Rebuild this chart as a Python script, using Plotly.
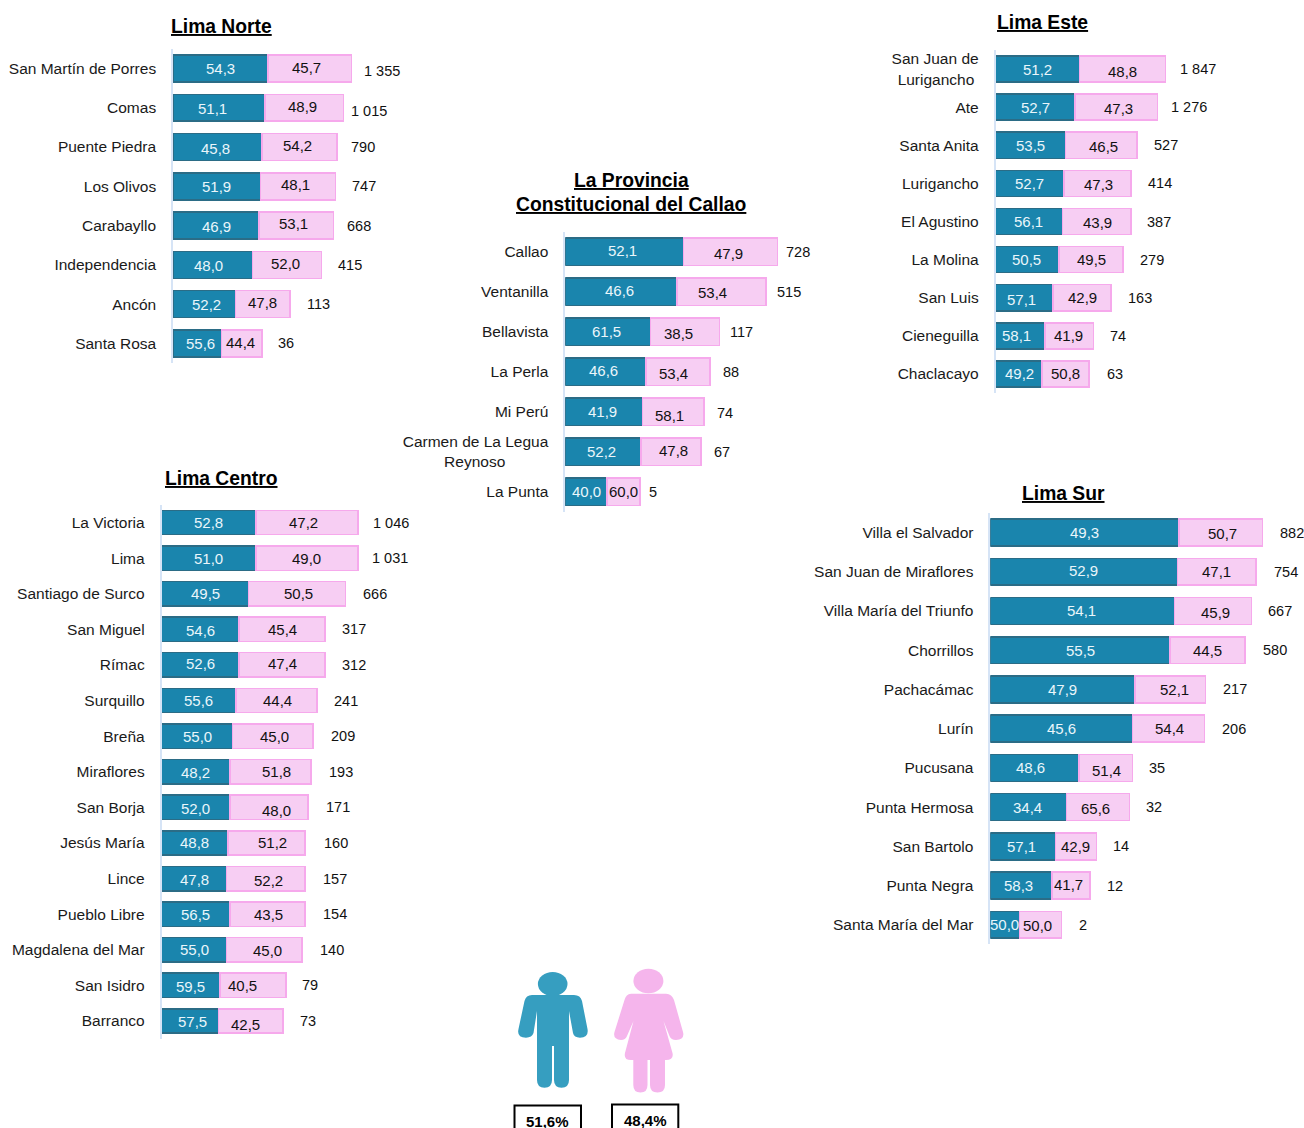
import plotly.graph_objects as go

W, H = 1304, 1128
FONT = "Liberation Sans"
MALE_FILL, MALE_EDGE = "#1A85AD", "#2B6C86"
FEMALE_FILL, FEMALE_EDGE = "#F7CEF3", "#F6A9EC"
AXIS_LINE = "#D6E4F6"
MAN_COLOR, WOMAN_COLOR = "#369EC0", "#F5B5EC"

# ---------- Lima Norte ----------
NORTE_NAMES = ["San Martín de Porres", "Comas", "Puente Piedra", "Los Olivos", "Carabayllo", "Independencia", "Ancón", "Santa Rosa"]
NORTE_MALE = [54.3, 51.1, 45.8, 51.9, 46.9, 48.0, 52.2, 55.6]
NORTE_FEMALE = [45.7, 48.9, 54.2, 48.1, 53.1, 52.0, 47.8, 44.4]
NORTE_TOTAL = [1355, 1015, 790, 747, 668, 415, 113, 36]
NORTE_MALE_BAR = [95, 92, 89, 87.3, 86, 79.7, 62.3, 48.3]
NORTE_FEMALE_BAR = [83.3, 78.3, 75, 75, 74.7, 69, 54.7, 40.7]

# ---------- Callao ----------
CALLAO_NAMES = ["Callao", "Ventanilla", "Bellavista", "La Perla", "Mi Perú", "Carmen de La Legua Reynoso", "La Punta"]
CALLAO_MALE = [52.1, 46.6, 61.5, 46.6, 41.9, 52.2, 40.0]
CALLAO_FEMALE = [47.9, 53.4, 38.5, 53.4, 58.1, 47.8, 60.0]
CALLAO_TOTAL = [728, 515, 117, 88, 74, 67, 5]
CALLAO_MALE_BAR = [118.3, 112, 85.3, 80.7, 77.3, 76, 41.7]
CALLAO_FEMALE_BAR = [94, 89, 69, 64.3, 61.3, 59.7, 33]

# ---------- Lima Este ----------
ESTE_NAMES = ["San Juan de Lurigancho", "Ate", "Santa Anita", "Lurigancho", "El Agustino", "La Molina", "San Luis", "Cieneguilla", "Chaclacayo"]
ESTE_MALE = [51.2, 52.7, 53.5, 52.7, 56.1, 50.5, 57.1, 58.1, 49.2]
ESTE_FEMALE = [48.8, 47.3, 46.5, 47.3, 43.9, 49.5, 42.9, 41.9, 50.8]
ESTE_TOTAL = [1847, 1276, 527, 414, 387, 279, 163, 74, 63]
ESTE_MALE_BAR = [84, 79.3, 70, 68.3, 67, 63.7, 57.7, 49.7, 46.7]
ESTE_FEMALE_BAR = [86, 82.7, 71.7, 67.3, 68.7, 64, 57.7, 48.3, 46.7]

# ---------- Lima Centro ----------
CENTRO_NAMES = ["La Victoria", "Lima", "Santiago de Surco", "San Miguel", "Rímac", "Surquillo", "Breña", "Miraflores", "San Borja", "Jesús María", "Lince", "Pueblo Libre", "Magdalena del Mar", "San Isidro", "Barranco"]
CENTRO_MALE = [52.8, 51.0, 49.5, 54.6, 52.6, 55.6, 55.0, 48.2, 52.0, 48.8, 47.8, 56.5, 55.0, 59.5, 57.5]
CENTRO_FEMALE = [47.2, 49.0, 50.5, 45.4, 47.4, 44.4, 45.0, 51.8, 48.0, 51.2, 52.2, 43.5, 45.0, 40.5, 42.5]
CENTRO_TOTAL = [1046, 1031, 666, 317, 312, 241, 209, 193, 171, 160, 157, 154, 140, 79, 73]
CENTRO_MALE_BAR = [94.7, 94.7, 87, 77.7, 77.7, 74.3, 71, 68.3, 68.3, 66.7, 65, 68.3, 65, 58.7, 57]
CENTRO_FEMALE_BAR = [102, 102, 97, 86, 86, 81.3, 80.3, 81.3, 78, 76.7, 78.3, 75, 75.3, 66, 64.7]

# ---------- Lima Sur ----------
SUR_NAMES = ["Villa el Salvador", "San Juan de Miraflores", "Villa María del Triunfo", "Chorrillos", "Pachacámac", "Lurín", "Pucusana", "Punta Hermosa", "San Bartolo", "Punta Negra", "Santa María del Mar"]
SUR_MALE = [49.3, 52.9, 54.1, 55.5, 47.9, 45.6, 48.6, 34.4, 57.1, 58.3, 50.0]
SUR_FEMALE = [50.7, 47.1, 45.9, 44.5, 52.1, 54.4, 51.4, 65.6, 42.9, 41.7, 50.0]
SUR_TOTAL = [882, 754, 667, 580, 217, 206, 35, 32, 14, 12, 2]
SUR_MALE_BAR = [188.7, 187.3, 184, 179.7, 144.7, 142, 88.7, 76, 65.3, 61.7, 29]
SUR_FEMALE_BAR = [83.3, 78.3, 77, 75, 70.7, 72, 53.3, 63, 40.7, 38, 42.3]

# ---------- National shares ----------
NATIONAL_MALE = "51,6%"
NATIONAL_FEMALE = "48,4%"

# ---------- Label placement (pixels, relative to bar segment centre or bar end) ----------
PLACEMENT = {
    "norte": dict(x0=173, span=230, top=48.9, bottom=363,
        mdx=[-.5, -7, -2, -.5, 0, -4, 2.5, 3], mdy=[0, .5, 1, 0, .5, .5, 0, .5],
        fdx=[-2.8, -2, -2, -2, -3, -2, 0, -1], fdy=[-1.5, -1.5, -1.5, -2, -2, -1.5, -2, -.5],
        gap=[12, 7, 13, 16, 12, 15, 16, 15], tdy=[2, 3, 0, 0, 0, 0, 0, 0]),
    "callao": dict(x0=565.2, span=240, top=231.5, bottom=512,
        mdx=[-2.2, -1.7, -1.7, -1.7, -1.7, -1.7, 0], mdy=[-.7, -1, -.3, -1, -.5, -.3, -.3],
        fdx=[-1.7, -9, -7, -5, -3.3, 2, 0], fdy=[2.3, 1.2, 2, 2, 3.8, -1.3, 0],
        gap=[7.7, 9.7, 9.3, 11.3, 12.3, 12, 8], tdy=[0, 0, 0, 0, 1, 0, 0]),
    "este": dict(x0=995.5, span=230, top=50, bottom=393,
        mdx=[.3, .3, .3, 0, -.5, -1.2, -2.8, -3.5, 1], mdy=[0, 0, 0, 0, 0, 0, 1.7, 0, 0],
        fdx=[-.3, 2.3, 1.8, 1, .7, .3, 0, -1.2, .3], fdy=[2.7, 1, 1, 1.3, .8, 0, 0, 0, 0],
        gap=[13.3, 12.7, 15.7, 16, 15, 15.7, 16.3, 15.3, 16.7], tdy=[0, 0, 0, 0, 0, 0, 0, 0, 0]),
    "centro": dict(x0=161.5, span=230, top=504.7, bottom=1038.8,
        mdx=[0, 0, 0, 0, 0, 0, .5, 0, 0, -.7, 0, 0, 0, 0, 2.8], mdy=[0, 0, 0, 1, -1, 0, 0, .5, 1, -.3, .7, 0, 0, .8, 0],
        fdx=[-4, -1, 1.8, .3, .7, .7, 1.8, 5.7, 7.7, 6, 2.5, 1.5, 3.3, -11, -5.7], fdy=[0, 0, 0, -.3, -1.3, 0, 0, 0, 2.7, -.3, 1.7, 0, .8, 0, 3],
        gap=[14, 12.3, 16.7, 16, 16, 16.3, 16.7, 17, 17, 18, 17.3, 17.3, 17.3, 15, 15.7], tdy=[0, 0, 0, 0, 0, 0, 0, 0, 0, 0, 0, 0, 0, 0, 0]),
    "sur": dict(x0=990.3, span=300, top=512.9, bottom=944.4,
        mdx=[-.3, -.7, -.7, 0, 0, -.3, -3.7, -1, -1.7, -2.2, 0], mdy=[0, -1, 0, 0, 0, 0, 0, 0, 0, 0, 0],
        fdx=[1.7, 0, 2.5, 0, 4, 1, 1.3, -2.8, 0, -2.3, -3.2], fdy=[.8, -.7, 1.7, 0, 0, 0, 2.7, 1.7, 0, -1.3, 1],
        gap=[16.3, 16.7, 16, 16.7, 16.7, 16.3, 16, 15.3, 16, 15.7, 16], tdy=[0, 0, 0, 0, 0, 0, 0, 0, 0, 0, 0]),
}

PANELS = [
    ("norte", NORTE_NAMES, NORTE_MALE, NORTE_FEMALE, NORTE_TOTAL, NORTE_MALE_BAR, NORTE_FEMALE_BAR),
    ("callao", CALLAO_NAMES, CALLAO_MALE, CALLAO_FEMALE, CALLAO_TOTAL, CALLAO_MALE_BAR, CALLAO_FEMALE_BAR),
    ("este", ESTE_NAMES, ESTE_MALE, ESTE_FEMALE, ESTE_TOTAL, ESTE_MALE_BAR, ESTE_FEMALE_BAR),
    ("centro", CENTRO_NAMES, CENTRO_MALE, CENTRO_FEMALE, CENTRO_TOTAL, CENTRO_MALE_BAR, CENTRO_FEMALE_BAR),
    ("sur", SUR_NAMES, SUR_MALE, SUR_FEMALE, SUR_TOTAL, SUR_MALE_BAR, SUR_FEMALE_BAR),
]

# Tick text: line breaks as in the original; nbsp padding keeps the short line centred
TICK_OVERRIDES = {
    "San Juan de Lurigancho": "San Juan de<br>Lurigancho\u00a0",
    "Carmen de La Legua Reynoso": "Carmen de La Legua<br>Reynoso" + "\u00a0" * 10,
}


def share(v):
    return f"{v:.1f}".replace(".", ",")


def thousands(v):
    return f"{v:,}".replace(",", " ")


fig = go.Figure()
annotations = []
layout_axes = {}

for i, (key, names, male, female, total, mbar, fbar) in enumerate(PANELS, start=1):
    p = PLACEMENT[key]
    suffix = "" if i == 1 else str(i)
    xref, yref = f"x{suffix}", f"y{suffix}"
    fig.add_trace(go.Bar(y=names, x=mbar, orientation="h", xaxis=xref, yaxis=yref, name="Hombres",
                         marker=dict(color=MALE_FILL, line=dict(color=MALE_EDGE, width=1.5)), showlegend=False))
    fig.add_trace(go.Bar(y=names, x=fbar, orientation="h", xaxis=xref, yaxis=yref, name="Mujeres",
                         marker=dict(color=FEMALE_FILL, line=dict(color=FEMALE_EDGE, width=1.5)), showlegend=False))
    layout_axes[f"xaxis{suffix}"] = dict(
        domain=[p["x0"] / W, (p["x0"] + p["span"]) / W], range=[0, p["span"]], visible=False,
        anchor=yref, fixedrange=True)
    layout_axes[f"yaxis{suffix}"] = dict(
        domain=[1 - p["bottom"] / H, 1 - p["top"] / H], type="category", categoryorder="array",
        categoryarray=names, autorange="reversed", anchor=xref, showgrid=False, zeroline=False,
        showline=True, linecolor=AXIS_LINE, linewidth=1.5, ticks="", ticklabelstandoff=12,
        tickmode="array", tickvals=names, ticktext=[TICK_OVERRIDES.get(n, n) for n in names],
        tickfont=dict(family=FONT, size=15.5, color="#1a1a1a"), fixedrange=True)
    for j, name in enumerate(names):
        common = dict(xref=xref, yref=yref, y=name, showarrow=False, borderpad=0)
        annotations.append(dict(common, x=mbar[j] / 2, text=share(male[j]), xshift=p["mdx"][j], yshift=-p["mdy"][j],
                                font=dict(family=FONT, size=15, color="#EAF6FB")))
        annotations.append(dict(common, x=mbar[j] + fbar[j] / 2, text=share(female[j]), xshift=p["fdx"][j], yshift=-p["fdy"][j],
                                font=dict(family=FONT, size=15, color="#111111")))
        annotations.append(dict(common, x=mbar[j] + fbar[j], xanchor="left", text=thousands(total[j]), xshift=p["gap"][j], yshift=-p["tdy"][j],
                                font=dict(family=FONT, size=14.5, color="#111111")))


def px(x):
    return x / W


def py(y):
    return 1 - y / H


# Panel titles
for text, cx, cy in [
    ("<b><u>Lima Norte</u></b>", 221, 26),
    ("<b><u>La Provincia</u></b>", 631.5, 180.5),
    ("<b><u>Constitucional del Callao</u></b>", 631.5, 204.5),
    ("<b><u>Lima Este</u></b>", 1042, 22.5),
    ("<b><u>Lima Centro</u></b>", 222, 478.5),
    ("<b><u>Lima Sur</u></b>", 1063, 493),
]:
    annotations.append(dict(xref="paper", yref="paper", x=px(cx), y=py(cy), xanchor="center", yanchor="middle",
                            text=text, showarrow=False, font=dict(family=FONT, size=19.3, color="#000000"),
                            borderpad=0, align="center"))

# Summary box labels
for text, cx, cy in [(NATIONAL_MALE, 547, 1121), (NATIONAL_FEMALE, 645, 1120)]:
    annotations.append(dict(xref="paper", yref="paper", x=px(cx), y=py(cy), xanchor="center", yanchor="middle",
                            text=f"<b>{text}</b>", showarrow=False,
                            font=dict(family=FONT, size=15, color="#000000"), borderpad=0))


def path(cmds):
    """Build an SVG path in paper coordinates from (cmd, x, y, ...) tuples given in page pixels."""
    out = []
    for c in cmds:
        if c == "Z":
            out.append("Z")
            continue
        nums = c[1:]
        pts = " ".join(f"{px(nums[k]):.5f},{py(nums[k + 1]):.5f}" for k in range(0, len(nums), 2))
        out.append(f"{c[0]} {pts}")
    return " ".join(out)


shapes = []


def icon(cmds, color):
    shapes.append(dict(type="path", xref="paper", yref="paper", path=path(cmds), fillcolor=color,
                       line=dict(width=0), layer="above"))


def head(cx, cy, rx, ry, color):
    shapes.append(dict(type="circle", xref="paper", yref="paper", x0=px(cx - rx), x1=px(cx + rx),
                       y0=py(cy + ry), y1=py(cy - ry), fillcolor=color, line=dict(width=0), layer="above"))


# Man pictogram
head(552.7, 984, 14.8, 12, MAN_COLOR)
icon([("M", 532, 995), ("L", 574, 995), ("Q", 580.5, 995, 582, 1001), ("L", 587.5, 1029),
      ("Q", 589, 1037.5, 580, 1037.7), ("Q", 574, 1037.5, 573, 1033), ("L", 569, 1011),
      ("L", 569, 1080), ("Q", 569, 1087.7, 561.5, 1087.7), ("Q", 554, 1087.7, 554, 1080),
      ("L", 554, 1046), ("L", 552, 1046), ("L", 552, 1080), ("Q", 552, 1087.7, 544.5, 1087.7),
      ("Q", 537, 1087.7, 537, 1080), ("L", 537, 1011), ("L", 533.5, 1033), ("Q", 532, 1037.5, 526, 1037.7),
      ("Q", 516.5, 1037.5, 518.5, 1029), ("L", 524.5, 1001), ("Q", 526, 995, 532, 995), "Z"], MAN_COLOR)

# Woman pictogram
head(648.4, 981, 15, 12.2, WOMAN_COLOR)
icon([("M", 631, 993.7), ("L", 666, 993.7), ("Q", 672, 994, 674, 1000), ("L", 683, 1032),
      ("Q", 685, 1039.5, 676, 1040), ("Q", 671, 1040, 669.5, 1036), ("L", 663.5, 1021),
      ("L", 672.5, 1053), ("Q", 674, 1060, 666, 1060), ("L", 665, 1060), ("L", 665, 1085),
      ("Q", 665, 1092.5, 657.5, 1092.5), ("Q", 650, 1092.5, 650, 1085), ("L", 650, 1060),
      ("L", 647.5, 1060), ("L", 647.5, 1085), ("Q", 647.5, 1092.5, 640.5, 1092.5),
      ("Q", 633.3, 1092.5, 633.3, 1085), ("L", 633.3, 1060), ("L", 631, 1060),
      ("Q", 623.5, 1060, 625, 1053), ("L", 633.5, 1021), ("L", 627, 1036), ("Q", 625.5, 1040, 621, 1040),
      ("Q", 612.5, 1039.5, 614.5, 1032), ("L", 624.5, 1000), ("Q", 626, 994, 631, 993.7), "Z"], WOMAN_COLOR)

# Summary boxes (cut by the page's lower edge)
for l, t, r in [(514.5, 1105.5, 581), (612, 1104.5, 678.3)]:
    shapes.append(dict(type="path", xref="paper", yref="paper",
                       path=path([("M", l, H), ("L", l, t), ("L", r, t), ("L", r, H)]),
                       line=dict(color="#000000", width=2), layer="above"))

fig.update_layout(
    width=W, height=H, margin=dict(l=0, r=0, t=0, b=0, pad=0), autosize=False,
    paper_bgcolor="white", plot_bgcolor="white", barmode="stack", bargap=0.315,
    showlegend=False, annotations=annotations, shapes=shapes,
    font=dict(family=FONT), **layout_axes,
)

fig.write_html(
    "out.html",
    config=dict(displayModeBar=False),
    post_script="document.body.style.margin='0';document.body.style.overflow='hidden';",
)
